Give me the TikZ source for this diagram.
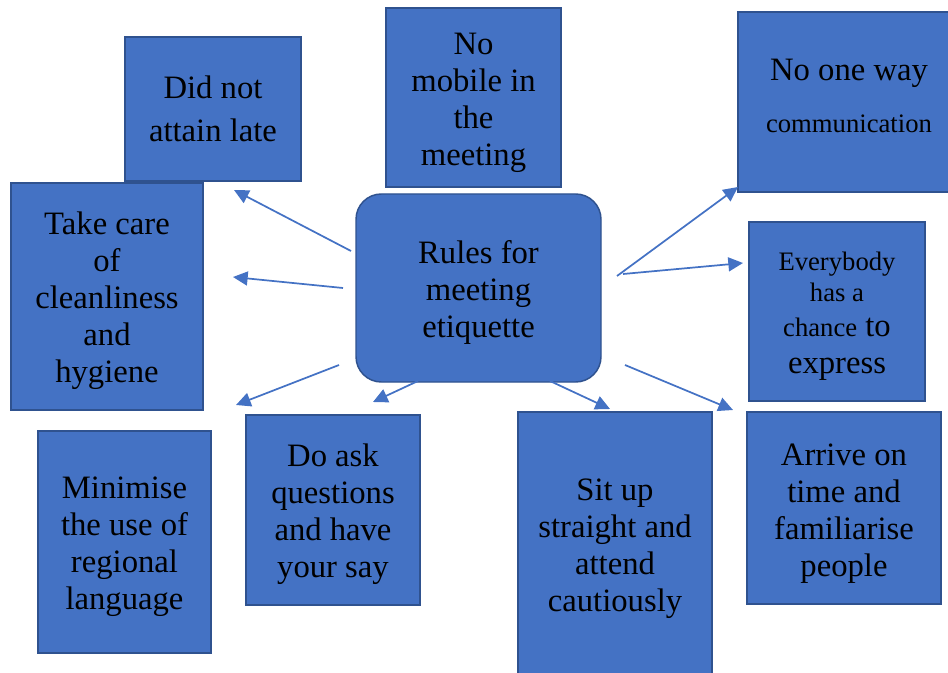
\documentclass[tikz,border=0pt]{standalone}
\usepackage{fontspec}
\setmainfont{Liberation Serif}
\usetikzlibrary{arrows.meta}
\definecolor{boxfill}{HTML}{4472C4}
\definecolor{boxline}{HTML}{2F528F}
\newcommand\smallf{\fontsize{20}{24}\selectfont}
\newcommand\topstrut[1][24pt]{\rule{0pt}{#1}}
\begin{document}
\begin{tikzpicture}[x=0.75pt,y=-0.75pt,
  box/.style={draw=boxline,fill=boxfill,line width=1.1pt,align=center,
    font=\fontsize{24.5}{27.75}\selectfont,inner sep=0pt},
  arr/.style={draw=boxfill,line width=1.3pt,-{Triangle[length=11pt,width=10.5pt]}}]
\useasboundingbox (0,0) rectangle (948,673);
\node[box,minimum width=132pt,minimum height=108pt] (did) at (213,109) {Did not\\[4.5pt]attain late};
\node[box,minimum width=131.25pt,minimum height=134.25pt] (mob) at (473.5,97.5) {\topstrut No\\mobile in\\the\\meeting};
\node[box,minimum width=166.5pt,minimum height=135pt] (one) at (849,102) {No one way\\[11pt]{\smallf communication}\rule[-9pt]{0pt}{9pt}};
\node[box,minimum width=144pt,minimum height=170.25pt] (care) at (107,296.5) {\topstrut Take care\\of\\cleanliness\\and\\hygiene};
\node[box,minimum width=183.75pt,minimum height=141pt,rounded corners=19pt] (rules) at (478.5,288) {\topstrut Rules for\\meeting\\etiquette};
\node[box,minimum width=132pt,minimum height=134.25pt] (every) at (837,311.5) {{\smallf\topstrut[21pt]Everybody}\\[-4.5pt]{\smallf has a}\\[-2pt]{\smallf chance} to\\express};
\node[box,minimum width=129.75pt,minimum height=166.5pt] (mini) at (124.5,542) {\topstrut Minimise\\the use of\\regional\\language};
\node[box,minimum width=130.5pt,minimum height=142.5pt] (ask) at (333,510) {\topstrut Do ask\\questions\\and have\\your say};
\node[box,minimum width=145.5pt,minimum height=201pt] (sit) at (615,546) {\topstrut[20.5pt]Sit up\\straight and\\attend\\cautiously};
\node[box,minimum width=145.5pt,minimum height=144pt] (arrive) at (844,508) {\topstrut Arrive on\\time and\\familiarise\\people};
% connector end points
\coordinate (s1) at (351,251); \coordinate (e1) at (234,190);
\coordinate (s2) at (343,288); \coordinate (e2) at (233,277);
\coordinate (s3) at (339,365); \coordinate (e3) at (236,405);
\coordinate (s4) at (418,381); \coordinate (e4) at (373,402);
\coordinate (s5) at (550,381); \coordinate (e5) at (610,409);
\coordinate (s6) at (625,365); \coordinate (e6) at (733,410);
\coordinate (s7) at (617,276); \coordinate (e7) at (738,187);
\coordinate (s8) at (623,274); \coordinate (e8) at (743,263);
\draw[arr] (s1) -- (e1);
\draw[arr] (s2) -- (e2);
\draw[arr] (s3) -- (e3);
\draw[arr] (s4) -- (e4);
\draw[arr] (s5) -- (e5);
\draw[arr] (s6) -- (e6);
\draw[arr] (s7) -- (e7);
\draw[arr] (s8) -- (e8);
\end{tikzpicture}
\end{document}
